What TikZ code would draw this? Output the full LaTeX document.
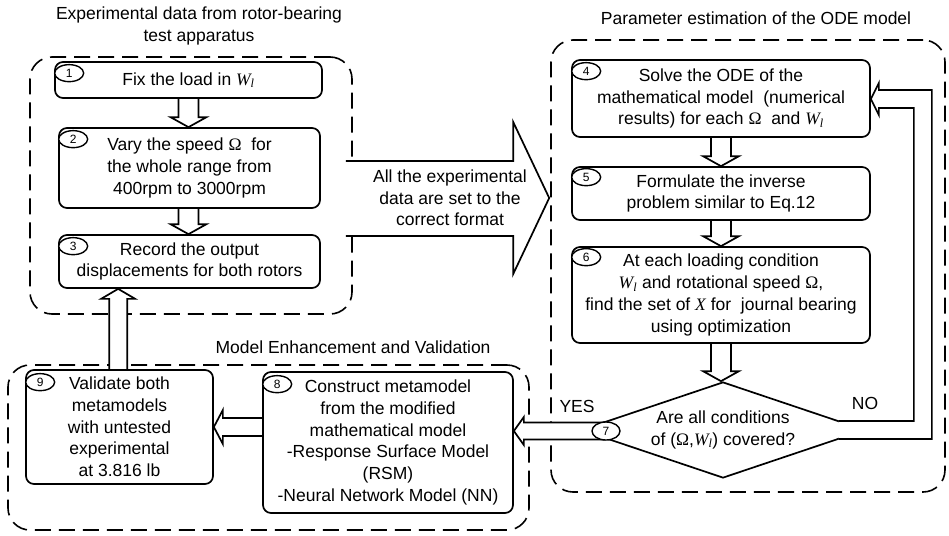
\documentclass[tikz,border=0pt]{standalone}
\usepackage{fontspec}
\setmainfont{Liberation Sans}
\newfontfamily\tms{Liberation Serif}
\usetikzlibrary{shapes.geometric,calc}
\pgfdeclarelayer{background}
\pgfsetlayers{background,main}
\newcommand\Wl{{\tms\itshape W\textsubscript{\tms\itshape l}}}
\newcommand\Om{{\tms Ω}}
\newcommand\Xv{{\tms\itshape X}}
\begin{document}
\begin{tikzpicture}[x=1pt,y=-1pt,
  font=\fontsize{17.5}{21.7}\selectfont,
  box/.style={draw, fill=white, line width=1.7pt, rounded corners=8pt, align=center, inner sep=0pt},
  num/.style={draw, fill=white, ellipse, line width=1.4pt, minimum width=29pt, minimum height=17pt, inner sep=0pt, font=\fontsize{12}{13}\selectfont},
  group/.style={draw, dash pattern=on 16pt off 8pt, line width=1.6pt, rounded corners=22pt, inner sep=0pt},
  blk/.style={draw, fill=white, line width=1.7pt, line join=miter},
  lbl/.style={align=center, inner sep=1pt}]
\useasboundingbox (0,0) rectangle (949,535);

% titles
\node[lbl] (t1) at (199,26) {Experimental data from rotor-bearing\\test apparatus};
\node[lbl] (t2) at (756,18) {Parameter estimation of the ODE model};
\node[lbl] (t3) at (353,347) {Model Enhancement and Validation};

% boxes
\node[box, minimum width=267, minimum height=36] (b1) at (188.5,80) {Fix the load in \Wl};
\node[box, minimum width=261, minimum height=80] (b2) at (189.5,168) {Vary the speed \Om\ \ for\\the whole range from\\400rpm to 3000rpm};
\node[box, minimum width=261, minimum height=53] (b3) at (189.5,261.5) {Record the output\\displacements for both rotors};
\node[box, minimum width=298, minimum height=77] (b4) at (721,98.5) {Solve the ODE of the\\mathematical model\ \ (numerical\\results) for each \Om\ \ and \Wl};
\node[box, minimum width=298, minimum height=53] (b5) at (721,193.5) {Formulate the inverse\\problem similar to Eq.12};
\node[box, minimum width=298, minimum height=96] (b6) at (721,295) {At each loading condition\\\Wl\ and rotational speed \Om,\\find the set of \Xv\ for\ \ journal bearing\\using optimization};
\node[box, minimum width=250, minimum height=141] (b8) at (388,442.5) {Construct metamodel\\from the modified\\mathematical model\\-Response Surface Model\\(RSM)\\-Neural Network Model (NN)};
\node[box, minimum width=187, minimum height=114] (b9) at (119.5,427) {Validate both\\metamodels\\with untested\\experimental\\at 3.816 lb};

% number tags
\node[num] (e1) at ([shift={(15,12)}]b1.north west) {1};
\node[num] (e2) at ([shift={(15,12)}]b2.north west) {2};
\node[num] (e3) at ([shift={(15,12)}]b3.north west) {3};
\node[num] (e4) at ([shift={(15,12)}]b4.north west) {4};
\node[num] (e5) at ([shift={(15,11)}]b5.north west) {5};
\node[num] (e6) at ([shift={(15,11)}]b6.north west) {6};
\node[num] (e8) at ([shift={(15,13)}]b8.north west) {8};
\node[num] (e9) at ([shift={(15,13)}]b9.north west) {9};
\node[num, minimum width=28pt, minimum height=18pt] (e7) at (606,431) {7};

% labels
\node[lbl] (fmt) at (450,198) {All the experimental\\data are set to the\\correct format};
\node[lbl] (yes) at (577,406) {YES};
\node[lbl] (no) at (865,403) {NO};

\begin{pgfonlayer}{background}
\node[group, minimum width=322, minimum height=257] (g1) at (191,185.5) {};
\node[group, minimum width=394, minimum height=452] (g2) at (748,266) {};
\node[group, minimum width=521, minimum height=165] (g3) at (268.5,447.5) {};

\node[diamond, draw, line width=1.7pt, aspect=2.96, minimum width=284, minimum height=96, inner sep=0pt, align=center] (d) at (723,430) {Are all conditions\\of (\Om,\Wl) covered?};

% vertical block arrows (down)
\draw[blk] let \p1=(b1.south), \p2=(b2.north) in
  (\x1-10pt,\y1) -- (\x1-10pt,\y2+10pt) -- (\x1-18pt,\y2+10pt) -- (\x1,\y2) -- (\x1+18pt,\y2+10pt) -- (\x1+10pt,\y2+10pt) -- (\x1+10pt,\y1);
\draw[blk] let \p1=(b1.south), \p2=(b3.north), \p3=(b2.south) in
  (\x1-10pt,\y3) -- (\x1-10pt,\y2+10pt) -- (\x1-18pt,\y2+10pt) -- (\x1,\y2) -- (\x1+18pt,\y2+10pt) -- (\x1+10pt,\y2+10pt) -- (\x1+10pt,\y3);
\draw[blk] let \p1=(b4.south), \p2=(b5.north) in
  (\x1-10pt,\y1) -- (\x1-10pt,\y2+10pt) -- (\x1-18pt,\y2+10pt) -- (\x1,\y2) -- (\x1+18pt,\y2+10pt) -- (\x1+10pt,\y2+10pt) -- (\x1+10pt,\y1);
\draw[blk] let \p1=(b5.south), \p2=(b6.north) in
  (\x1-10pt,\y1) -- (\x1-10pt,\y2+10pt) -- (\x1-18pt,\y2+10pt) -- (\x1,\y2) -- (\x1+18pt,\y2+10pt) -- (\x1+10pt,\y2+10pt) -- (\x1+10pt,\y1);
\draw[blk] let \p1=(b6.south), \p2=(d.north) in
  (\x1-10pt,\y1) -- (\x1-10pt,\y2+10pt) -- (\x1-18pt,\y2+10pt) -- (\x1,\y2) -- (\x1+18pt,\y2+10pt) -- (\x1+10pt,\y2+10pt) -- (\x1+10pt,\y1);

% up arrow 9 -> 3
\draw[blk] let \p1=(b9.north west), \p2=(b3.south) in
  (\x1+84pt,\y1) -- (\x1+84pt,\y2-10pt) -- (\x1+76pt,\y2-10pt) -- (\x1+93pt,\y2) -- (\x1+110pt,\y2-10pt) -- (\x1+102pt,\y2-10pt) -- (\x1+102pt,\y1);

% big arrow group 1 -> group 2
\draw[blk] let \p1=(g1.east |- fmt), \p2=(g2.west |- fmt) in
  (\x1-7pt,\y1+37pt) -- (\x2-37pt,\y1+37pt) -- (\x2-37pt,\y1+76pt) -- (\x2-1pt,\y1) -- (\x2-37pt,\y1-76pt) -- (\x2-37pt,\y1-38pt) -- (\x1-7pt,\y1-38pt);

% arrow 8 -> 9
\draw[blk] let \p1=(b8.west |- b9.east), \p2=(b9.east) in
  (\x1,\y1+9pt) -- (\x2+9pt,\y1+9pt) -- (\x2+9pt,\y1+17pt) -- (\x2,\y1) -- (\x2+9pt,\y1-17pt) -- (\x2+9pt,\y1-9pt) -- (\x1,\y1-9pt);

% YES arrow 7 -> 8
\draw[blk] let \p1=(e7.center), \p2=(b8.east |- e7.center) in
  (\x1,\y1+8.5pt) -- (\x2+10pt,\y1+8.5pt) -- (\x2+10pt,\y1+14pt) -- (\x2,\y1) -- (\x2+10pt,\y1-14pt) -- (\x2+10pt,\y1-8.5pt) -- (\x1,\y1-8.5pt);

% NO arrow back to 4
\draw[blk] let \p1=(d.east), \p2=(b4.east |- 0,99) in
  (\x1-27pt,\y1-9pt) -- (\x1+66pt,\y1-9pt) -- (\x1+66pt,\y2+9pt) -- (\x2+8pt,\y2+9pt) -- (\x2+8pt,\y2+16pt) -- (\x2,\y2) -- (\x2+8pt,\y2-16pt) -- (\x2+8pt,\y2-9pt) -- (\x1+48pt,\y2-9pt) -- (\x1+48pt,\y1+9pt) -- (\x1-27pt,\y1+9pt);
\end{pgfonlayer}
\end{tikzpicture}
\end{document}
